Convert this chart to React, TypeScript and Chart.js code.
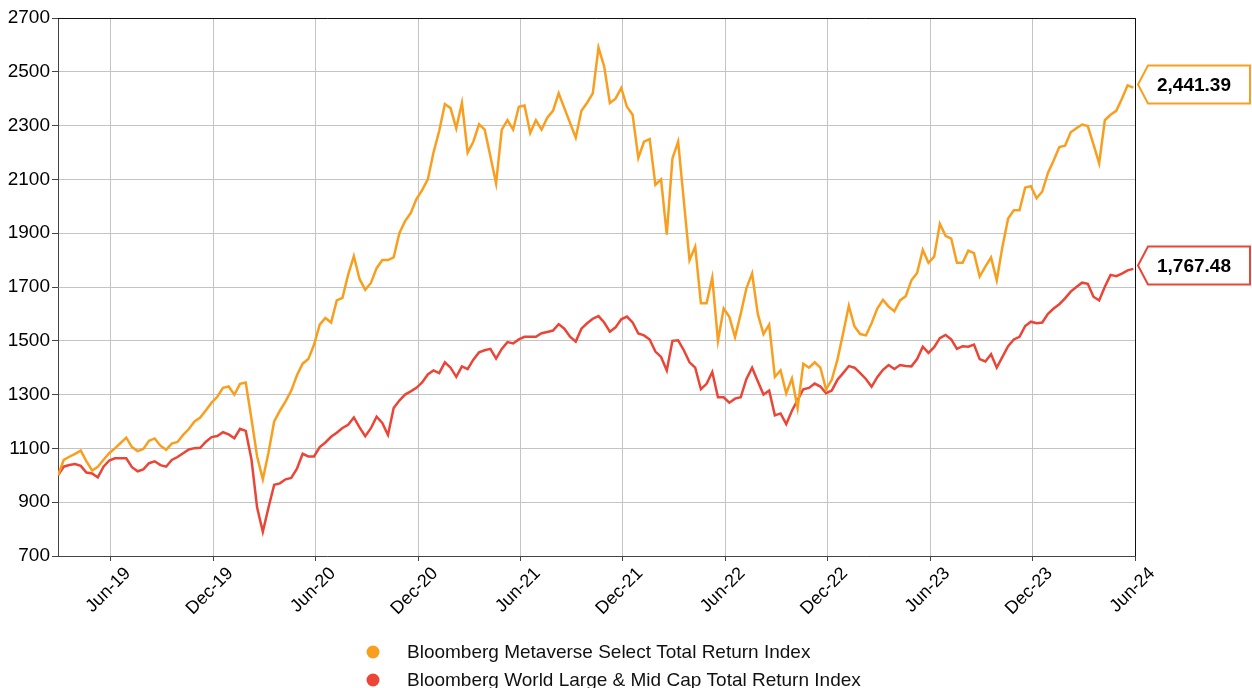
import React, { useEffect, useRef } from "react";
import { Chart, registerables } from "chart.js";

Chart.register(...registerables);

// x positions are months relative to Jun-19; one observation every ~10 days
const FIRST_MONTH = -3.1;
const STEP_MONTHS = 1 / 3;
const LAST_MONTH = 60;

const TICK_MONTHS = [0, 6, 12, 18, 24, 30, 36, 42, 48, 54, 60];
const TICK_LABELS = ["Jun-19", "Dec-19", "Jun-20", "Dec-20", "Jun-21", "Dec-21", "Jun-22", "Dec-22", "Jun-23", "Dec-23", "Jun-24"];

const Y_MIN = 700;
const Y_MAX = 2700;
const Y_STEP = 200;

const SERIES_NAMES = [
  "Bloomberg Metaverse Select Total Return Index",
  "Bloomberg World Large & Mid Cap Total Return Index",
];

const METAVERSE = [
  1000, 1057, 1069, 1080, 1092, 1052, 1018, 1032, 1058, 1082,
  1100, 1120, 1140, 1105, 1090, 1098, 1128, 1137, 1110, 1095,
  1118, 1124, 1150, 1172, 1200, 1215, 1242, 1270, 1292, 1325,
  1330, 1300, 1340, 1345, 1210, 1070, 985, 1085, 1200, 1240,
  1275, 1315, 1372, 1415, 1432, 1485, 1560, 1585, 1568, 1650,
  1660, 1746, 1815, 1730, 1690, 1715, 1770, 1800, 1800, 1810,
  1900, 1945, 1975, 2027, 2060, 2100, 2200, 2280, 2380, 2365,
  2290, 2385, 2200, 2240, 2305, 2285, 2186, 2085, 2285, 2320,
  2285, 2370, 2375, 2273, 2320, 2285, 2329, 2355, 2420, 2365,
  2310, 2255, 2355, 2385, 2420, 2590, 2520, 2384, 2400, 2440,
  2370, 2340, 2180, 2240, 2250, 2080, 2100, 1895, 2178, 2240,
  2020, 1800, 1850, 1640, 1640, 1735, 1500, 1620, 1589, 1514,
  1600, 1695, 1750, 1600, 1525, 1560, 1366, 1390, 1305, 1360,
  1250, 1415, 1400, 1420, 1400, 1320, 1355, 1430, 1528, 1630,
  1553, 1525, 1520, 1565, 1620, 1652, 1627, 1610, 1650, 1666,
  1725, 1752, 1838, 1790, 1813, 1935, 1890, 1880, 1790, 1790,
  1835, 1826, 1739, 1776, 1810, 1725, 1850, 1955, 1985, 1985,
  2070, 2075, 2030, 2055, 2124, 2170, 2220, 2225, 2275, 2290,
  2304, 2298, 2230, 2160, 2320, 2340, 2355, 2400, 2450, 2441.39,
];

const WORLD = [
  1000, 1032, 1038, 1042, 1035, 1010, 1007, 992, 1032, 1055,
  1063, 1063, 1063, 1030, 1015, 1022, 1045, 1052, 1038, 1032,
  1057, 1068, 1082, 1096, 1101, 1102, 1125, 1142, 1146, 1160,
  1152, 1138, 1173, 1165, 1060, 880, 790, 880, 965, 970,
  985, 990, 1025, 1080, 1070, 1070, 1105, 1122, 1143, 1158,
  1176, 1188, 1215, 1178, 1145, 1175, 1218, 1195, 1150, 1250,
  1278, 1300, 1312, 1325, 1345, 1375, 1390, 1380, 1420, 1400,
  1366, 1405, 1395, 1430, 1457, 1465, 1470, 1434, 1470, 1495,
  1490, 1505, 1515, 1515, 1515, 1528, 1533, 1538, 1562, 1545,
  1515, 1497, 1545, 1565, 1582, 1592, 1568, 1534, 1550, 1580,
  1590, 1568, 1527, 1520, 1505, 1460, 1440, 1390, 1500, 1502,
  1465, 1420, 1400, 1320, 1340, 1384, 1290, 1290, 1270, 1285,
  1290, 1358, 1400, 1350, 1300, 1315, 1223, 1230, 1190, 1240,
  1280, 1320, 1325, 1341, 1330, 1305, 1315, 1355, 1380, 1406,
  1400, 1380, 1358, 1329, 1365, 1392, 1410, 1395, 1410, 1406,
  1405, 1432, 1478, 1455, 1476, 1510, 1522, 1505, 1470, 1480,
  1478, 1486, 1432, 1423, 1450, 1400, 1440, 1480, 1505, 1515,
  1555, 1571, 1565, 1568, 1600, 1620, 1636, 1658, 1683, 1700,
  1716, 1712, 1664, 1650, 1701, 1745, 1740, 1750, 1762, 1767.48,
];

const COLORS = ["#F99F20", "#EA4537"];
const FONT = "'Liberation Sans', Arial, Helvetica, sans-serif";
const W = 1252;
const H = 688;

const toPoints = (vals: number[]) =>
  vals.map((v, i) => ({ x: FIRST_MONTH + i * STEP_MONTHS, y: v }));

const fmt = (v: number) =>
  v.toLocaleString("en-US", { minimumFractionDigits: 2, maximumFractionDigits: 2 });

const overlayPlugin = {
  id: "overlay",
  beforeDatasetsDraw(chart: any) {
    const { ctx, chartArea } = chart;
    ctx.save();
    ctx.strokeStyle = "#111";
    ctx.lineWidth = 1;
    ctx.beginPath();
    ctx.moveTo(chartArea.left, chartArea.top + 0.5);
    ctx.lineTo(chartArea.right, chartArea.top + 0.5);
    ctx.moveTo(chartArea.right + 0.5, chartArea.top);
    ctx.lineTo(chartArea.right + 0.5, chartArea.bottom);
    ctx.stroke();
    ctx.restore();
  },
  afterDraw(chart: any) {
    const { ctx, chartArea } = chart;
    const yScale = chart.scales.y;
    const series = [METAVERSE, WORLD];
    ctx.save();
    // callouts
    series.forEach((vals, k) => {
      const last = vals[vals.length - 1];
      const cy = Math.round(yScale.getPixelForValue(last)) - 4 + 0.5;
      const tipX = chartArea.right + 3;
      const h = 19;
      ctx.beginPath();
      ctx.moveTo(tipX, cy);
      ctx.lineTo(tipX + 10, cy - h);
      ctx.lineTo(W - 2, cy - h);
      ctx.lineTo(W - 2, cy + h);
      ctx.lineTo(tipX + 10, cy + h);
      ctx.closePath();
      ctx.fillStyle = "#fff";
      ctx.fill();
      ctx.strokeStyle = COLORS[k];
      ctx.lineWidth = 2;
      ctx.stroke();
      ctx.fillStyle = "#000";
      ctx.font = `bold 19px ${FONT}`;
      ctx.textAlign = "left";
      ctx.textBaseline = "middle";
      ctx.fillText(fmt(last), tipX + 19, cy + 1);
    });
    // legend
    SERIES_NAMES.forEach((name, k) => {
      const y = 652 + k * 28;
      ctx.beginPath();
      ctx.arc(373, y, 6.5, 0, Math.PI * 2);
      ctx.fillStyle = COLORS[k];
      ctx.fill();
      ctx.fillStyle = "#111";
      ctx.font = `19px ${FONT}`;
      ctx.textAlign = "left";
      ctx.textBaseline = "middle";
      ctx.fillText(name, 407, y + 1);
    });
    ctx.restore();
  },
};

export default function App() {
  const ref = useRef<HTMLCanvasElement | null>(null);

  useEffect(() => {
    if (!ref.current) return;
    const chart = new Chart(ref.current, {
      type: "line",
      data: {
        datasets: [
          {
            label: SERIES_NAMES[0],
            data: toPoints(METAVERSE),
            borderColor: COLORS[0],
            backgroundColor: COLORS[0],
            borderWidth: 2.5,
            pointRadius: 0,
            tension: 0,
          },
          {
            label: SERIES_NAMES[1],
            data: toPoints(WORLD),
            borderColor: COLORS[1],
            backgroundColor: COLORS[1],
            borderWidth: 2.5,
            pointRadius: 0,
            tension: 0,
          },
        ],
      },
      options: {
        responsive: false,
        animation: false,
        devicePixelRatio: 1,
        layout: { padding: { top: 18, right: W - 1135, left: 0, bottom: 0 } },
        plugins: {
          legend: { display: false },
          tooltip: { enabled: false },
        },
        scales: {
          x: {
            type: "linear",
            min: FIRST_MONTH,
            max: LAST_MONTH,
            afterBuildTicks: (scale: any) => {
              scale.ticks = TICK_MONTHS.map((v) => ({ value: v }));
            },
            afterFit: (scale: any) => {
              scale.height = H - 556;
            },
            ticks: {
              autoSkip: false,
              minRotation: 45,
              maxRotation: 45,
              padding: 2,
              labelOffset: 17,
              color: "#000",
              font: { family: FONT, size: 18 },
              callback: (v: any) => {
                const idx = TICK_MONTHS.indexOf(Number(v));
                return idx >= 0 ? TICK_LABELS[idx] : "";
              },
            },
            grid: { color: "#c4c4c4", tickLength: 5, tickColor: "#444" },
            border: { color: "#444", width: 1 },
          },
          y: {
            min: Y_MIN,
            max: Y_MAX,
            afterFit: (scale: any) => {
              scale.width = 58;
            },
            ticks: {
              stepSize: Y_STEP,
              padding: 2,
              color: "#000",
              font: { family: FONT, size: 19 },
              callback: (v: any) => String(v),
            },
            grid: { color: "#c4c4c4", tickLength: 6, tickColor: "#444" },
            border: { color: "#444", width: 1 },
          },
        },
      },
      plugins: [overlayPlugin],
    } as any);
    return () => chart.destroy();
  }, []);

  return (
    <div style={{ position: "absolute", left: 0, top: 0, width: W, height: H, background: "#fff" }}>
      <canvas ref={ref} width={W} height={H} style={{ display: "block", width: W, height: H }} />
    </div>
  );
}
